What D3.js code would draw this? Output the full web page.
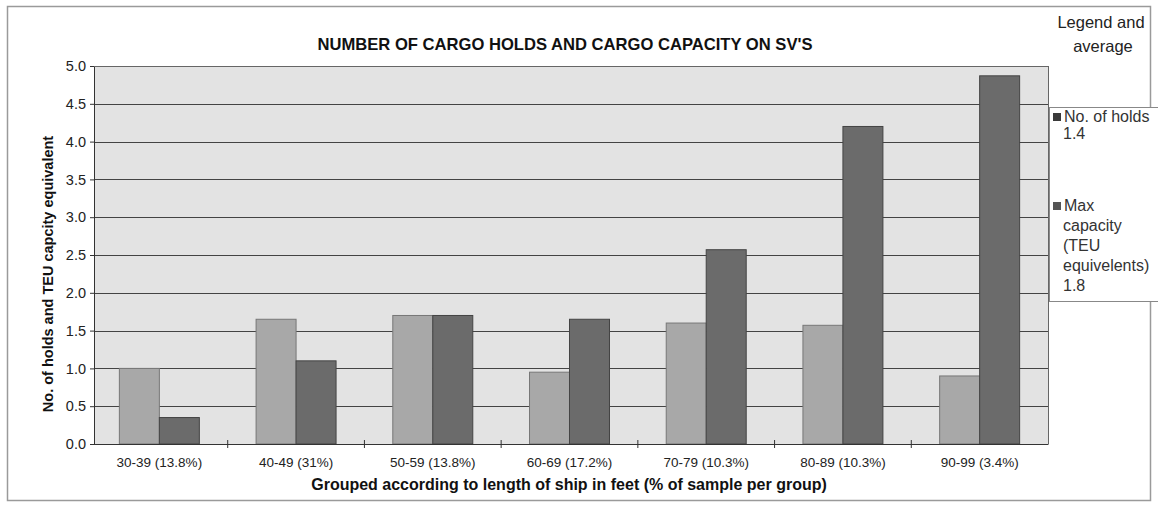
<!DOCTYPE html>
<html>
<head>
<meta charset="utf-8">
<script src="https://cdn.jsdelivr.net/npm/d3@7"></script>
<style>
  html, body { margin: 0; padding: 0; background: #fff; }
  svg { display: block; font-family: Arial, "Liberation Sans", sans-serif; }
</style>
</head>
<body>
<svg id="chart" width="1158" height="513"></svg>
<script>
const categories = ["30-39 (13.8%)", "40-49 (31%)", "50-59 (13.8%)", "60-69 (17.2%)", "70-79 (10.3%)", "80-89 (10.3%)", "90-99 (3.4%)"];
const holds = [1.0, 1.65, 1.7, 0.95, 1.6, 1.57, 0.9];
const capacity = [0.35, 1.1, 1.7, 1.65, 2.57, 4.2, 4.87];
const seriesNames = ["No. of holds", "Max capacity (TEU equivelents)"];
const averages = [1.4, 1.8];
const yTicks = [0, 0.5, 1, 1.5, 2, 2.5, 3, 3.5, 4, 4.5, 5];

const svg = d3.select("#chart");
const m = { left: 94, right: 1048, top: 66, bottom: 444 };
const FONT = "Arial, 'Liberation Sans', sans-serif";

// outer frame
svg.append("rect").attr("x", 7.5).attr("y", 6.5).attr("width", 1143).attr("height", 494)
  .attr("fill", "#fff").attr("stroke", "#9a9a9a").attr("stroke-width", 1.5);

const x0 = d3.scaleBand().domain(categories).range([91, m.right]).paddingInner(0.415).paddingOuter(0.2075);
const x1 = d3.scaleBand().domain(["holds", "capacity"]).range([0, x0.bandwidth()]);
const y = d3.scaleLinear().domain([0, 5]).range([m.bottom, m.top]);

// plot background
svg.append("rect").attr("x", m.left).attr("y", m.top).attr("width", m.right - m.left).attr("height", m.bottom - m.top)
  .attr("fill", "#e3e3e3");

// gridlines
svg.append("g").selectAll("line").data(yTicks.slice(1)).join("line")
  .attr("x1", m.left).attr("x2", m.right)
  .attr("y1", d => Math.round(y(d)) + 0.5).attr("y2", d => Math.round(y(d)) + 0.5)
  .attr("stroke", "#444").attr("stroke-width", 1);

// bars
const data = categories.map((c, i) => ({ c, vals: [{ k: "holds", v: holds[i] }, { k: "capacity", v: capacity[i] }] }));
const colors = { holds: "#a8a8a8", capacity: "#6b6b6b" };
const strokes = { holds: "#777", capacity: "#444" };
svg.append("g").selectAll("g").data(data).join("g")
  .attr("transform", d => `translate(${x0(d.c)},0)`)
  .selectAll("rect").data(d => d.vals).join("rect")
  .attr("x", d => x1(d.k)).attr("width", x1.bandwidth())
  .attr("y", d => y(d.v)).attr("height", d => y(0) - y(d.v))
  .attr("fill", d => colors[d.k]).attr("stroke", d => strokes[d.k]).attr("stroke-width", 1);

// axes
const yAxis = d3.axisLeft(y).tickValues(yTicks).tickFormat(d3.format(".1f")).tickSize(4).tickPadding(4);
const gy = svg.append("g").attr("transform", `translate(${m.left},0)`).call(yAxis);
gy.select(".domain").attr("stroke", "#333");
gy.selectAll(".tick line").attr("stroke", "#333");
gy.selectAll("text").attr("font-size", 14.5).attr("fill", "#222").attr("font-family", FONT);

const xAxis = d3.axisBottom(x0).tickSize(0).tickPadding(13);
const gx = svg.append("g").attr("transform", `translate(0,${m.bottom})`).call(xAxis);
gx.select(".domain").attr("stroke", "#333");
gx.selectAll("text").attr("font-size", 13.5).attr("fill", "#222").attr("font-family", FONT);
// category boundary ticks
const step = x0.step();
svg.append("g").selectAll("line").data(categories.slice(1)).join("line")
  .attr("x1", d => x0(d) - (step - x0.bandwidth()) / 2).attr("x2", d => x0(d) - (step - x0.bandwidth()) / 2)
  .attr("y1", m.bottom - 4).attr("y2", m.bottom + 4).attr("stroke", "#333");

// plot right/top border
svg.append("line").attr("x1", m.right + 0.5).attr("x2", m.right + 0.5).attr("y1", m.top).attr("y2", m.bottom)
  .attr("stroke", "#666");
svg.append("line").attr("x1", m.left).attr("x2", m.right).attr("y1", m.top + 0.5).attr("y2", m.top + 0.5)
  .attr("stroke", "#666");

// title
svg.append("text").attr("x", 565).attr("y", 50).attr("text-anchor", "middle")
  .attr("font-size", 16.6).attr("font-weight", "bold").attr("fill", "#111")
  .text("NUMBER OF CARGO HOLDS AND CARGO CAPACITY ON SV'S");

// axis titles
svg.append("text").attr("transform", `translate(53,274) rotate(-90)`)
  .attr("text-anchor", "middle").attr("font-size", 14.5).attr("font-weight", "bold").attr("fill", "#111")
  .text("No. of holds and TEU capcity equivalent");
svg.append("text").attr("x", 569).attr("y", 490).attr("text-anchor", "middle")
  .attr("font-size", 16).attr("font-weight", "bold").attr("fill", "#111")
  .text("Grouped according to length of ship in feet (% of sample per group)");

// legend
svg.append("text").attr("x", 1101).attr("y", 28).attr("text-anchor", "middle").attr("font-size", 16.5).attr("fill", "#222").text("Legend and");
svg.append("text").attr("x", 1103).attr("y", 52).attr("text-anchor", "middle").attr("font-size", 16.5).attr("fill", "#222").text("average");
const lg = svg.append("g");
lg.append("rect").attr("x", 1049.5).attr("y", 107.5).attr("width", 120).attr("height", 194)
  .attr("fill", "#fff").attr("stroke", "#888");
const legendItems = [
  { lines: [seriesNames[0], averages[0].toFixed(1)], y: 122, color: "#3a3a3a" },
  { lines: ["Max", "capacity", "(TEU", "equivelents)", averages[1].toFixed(1)], y: 211, color: "#555" }
];
legendItems.forEach(it => {
  lg.append("rect").attr("x", 1053).attr("y", it.y - 9).attr("width", 8).attr("height", 8).attr("fill", it.color);
  it.lines.forEach((t, j) => {
    lg.append("text").attr("x", j === 0 ? 1064 : 1063).attr("y", it.y + j * (j === 0 ? 0 : (it.lines.length > 2 ? 20 : 17)))
      .attr("font-size", 16).attr("fill", "#333").attr("font-family", FONT).text(t);
  });
});
</script>
</body>
</html>
